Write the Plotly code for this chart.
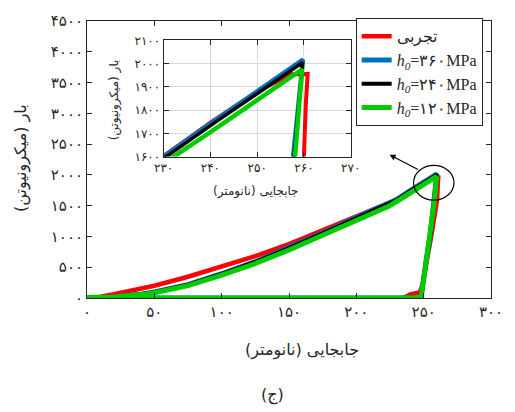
import plotly.graph_objects as go

# ---- data (displacement nm, load µN) ----
red_x = [0, 10, 20, 30, 50, 75, 100, 125, 150, 175, 200, 215, 225, 230, 240, 250, 257.4, 260.8, 260.4, 260, 256, 252.8, 249, 247, 244, 240, 237, 234]
red_y = [0, 20, 60, 110, 200, 345, 505, 680, 875, 1100, 1340, 1460, 1545, 1603, 1746, 1880, 1954, 1955, 1825, 1600, 1050, 645, 200, 90, 80, 60, 20, 0]

blue_x = [0, 20, 40, 50, 75, 92, 100, 125, 150, 180, 200, 224, 230, 240, 250, 259.8, 257.7, 255, 252, 250, 248, 0]
blue_y = [0, 18, 63, 97, 218, 334, 394, 590, 815, 1106, 1312, 1545, 1600, 1742, 1882, 2017, 1600, 1030, 630, 290, 0, 0]

black_x = [0, 20, 40, 50, 75, 92, 100, 125, 150, 180, 200, 224, 230.6, 240, 250, 259.7, 257.9, 255, 252, 250, 248, 0]
black_y = [0, 18, 62, 95, 215, 330, 390, 585, 810, 1100, 1305, 1535, 1600, 1733, 1870, 2005, 1600, 1030, 630, 290, 0, 0]

green_x = [0, 20, 40, 50, 75, 92, 100, 125, 150, 180, 200, 224, 232.3, 240, 250, 259.6, 258.1, 255, 252, 250, 248, 0]
green_y = [0, 15, 55, 85, 200, 314, 370, 560, 780, 1069, 1270, 1490, 1600, 1705, 1843, 1975, 1600, 1050, 645, 300, 0, 0]

series_names = ["تجربی",
                "<i>h<sub>0</sub></i>=۳۶۰MPa",
                "<i>h<sub>0</sub></i>=۲۴۰MPa",
                "<i>h<sub>0</sub></i>=۱۲۰MPa"]

x_tickvals = [0, 50, 100, 150, 200, 250, 300]
x_ticktext = ["۰", "۵۰", "۱۰۰", "۱۵۰", "۲۰۰", "۲۵۰", "۳۰۰"]
y_tickvals = [0, 500, 1000, 1500, 2000, 2500, 3000, 3500, 4000, 4500]
y_ticktext = ["۰", "۵۰۰", "۱۰۰۰", "۱۵۰۰", "۲۰۰۰", "۲۵۰۰", "۳۰۰۰", "۳۵۰۰", "۴۰۰۰", "۴۵۰۰"]
ix_tickvals = [230, 240, 250, 260, 270]
ix_ticktext = ["۲۳۰", "۲۴۰", "۲۵۰", "۲۶۰", "۲۷۰"]
iy_tickvals = [1600, 1700, 1800, 1900, 2000, 2100]
iy_ticktext = ["۱۶۰۰", "۱۷۰۰", "۱۸۰۰", "۱۹۰۰", "۲۰۰۰", "۲۱۰۰"]

x_title = "جابجایی (نانومتر)"
y_title = "بار (میکرونیوتن)"
caption = "(ج)"

colors = ["#FF0000", "#0072BD", "#000000", "#00CC00"]
widths = [4.5, 5, 4, 5]
xs = [red_x, blue_x, black_x, green_x]
ys = [red_y, blue_y, black_y, green_y]

PF = "DejaVu Sans"
TXT = "#262626"

fig = go.Figure()
for i in range(4):
    fig.add_trace(go.Scatter(x=xs[i], y=ys[i], mode="lines", name=series_names[i],
                             line=dict(color=colors[i], width=widths[i]),
                             xaxis="x", yaxis="y", showlegend=True))
for i in range(4):
    fig.add_trace(go.Scatter(x=xs[i], y=ys[i], mode="lines", name=series_names[i],
                             line=dict(color=colors[i], width=widths[i] - 0.5),
                             xaxis="x2", yaxis="y2", showlegend=False))

axis_common = dict(showline=True, linecolor="#262626", linewidth=1, mirror="ticks",
                   ticks="inside", ticklen=5, tickcolor="#262626", zeroline=False)

fig.update_layout(
    width=515, height=412,
    margin=dict(l=87, r=22, t=12, b=114),
    paper_bgcolor="white", plot_bgcolor="white",
    xaxis=dict(range=[0, 300], tickvals=x_tickvals, ticktext=x_ticktext,
               showgrid=False, tickfont=dict(family=PF, size=15, color=TXT),
               domain=[0, 1], **axis_common),
    yaxis=dict(range=[0, 4500], tickvals=y_tickvals, ticktext=y_ticktext,
               showgrid=False, tickfont=dict(family=PF, size=15, color=TXT),
               domain=[0, 1], **axis_common),
    xaxis2=dict(range=[230, 270], tickvals=ix_tickvals, ticktext=ix_ticktext,
                showgrid=True, gridcolor="#D9D9D9", gridwidth=1,
                tickfont=dict(family=PF, size=12, color=TXT),
                domain=[0.1897, 0.6527], anchor="y2", **axis_common),
    yaxis2=dict(range=[1600, 2100], tickvals=iy_tickvals, ticktext=iy_ticktext,
                showgrid=True, gridcolor="#D9D9D9", gridwidth=1,
                tickfont=dict(family=PF, size=12, color=TXT),
                domain=[0.5105, 0.930], anchor="x2", **axis_common),
    legend=dict(x=0.665, y=1.01, xanchor="left", yanchor="top",
                bgcolor="white", bordercolor="#262626", borderwidth=1,
                font=dict(family="Liberation Serif", size=16, color=TXT),
                itemwidth=30, tracegroupgap=0),
    showlegend=True,
)

# circle and arrow pointing to the inset
fig.add_shape(type="circle", xref="x", yref="y", x0=242.5, x1=272.5, y0=1590, y1=2155,
              line=dict(color="black", width=1.2))
fig.add_annotation(x=224.7, y=2328, ax=246.9, ay=2076, xref="x", yref="y",
                   axref="x", ayref="y", showarrow=True, arrowhead=2, arrowsize=1,
                   arrowwidth=1.2, arrowcolor="black", text="")

# titles
fig.add_annotation(text=x_title, xref="paper", yref="paper",
                   x=(303 - 87) / 406, y=(298 - 352) / 286, showarrow=False,
                   font=dict(family=PF, size=16, color=TXT), xanchor="center", yanchor="middle")
fig.add_annotation(text=y_title, xref="paper", yref="paper",
                   x=(20 - 87) / 406, y=(298 - 153) / 286, showarrow=False, textangle=-90,
                   font=dict(family=PF, size=16, color=TXT), xanchor="center", yanchor="middle")
fig.add_annotation(text=caption, xref="paper", yref="paper",
                   x=(273 - 87) / 406, y=(298 - 398) / 286, showarrow=False,
                   font=dict(family=PF, size=16, color=TXT), xanchor="center", yanchor="middle")
# inset titles
fig.add_annotation(text=x_title, xref="paper", yref="paper",
                   x=(257 - 87) / 406, y=(298 - 188) / 286, showarrow=False,
                   font=dict(family=PF, size=12, color=TXT), xanchor="center", yanchor="middle")
fig.add_annotation(text=y_title, xref="paper", yref="paper",
                   x=(115 - 87) / 406, y=(298 - 93) / 286, showarrow=False, textangle=-90,
                   font=dict(family=PF, size=12, color=TXT), xanchor="center", yanchor="middle")

fig.write_html("out.html")
